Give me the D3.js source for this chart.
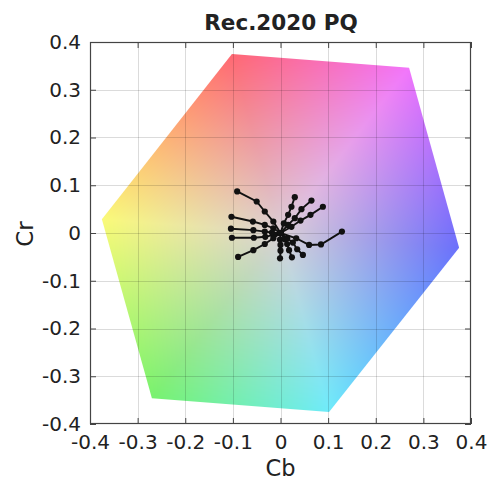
<!DOCTYPE html>
<html>
<head>
<meta charset="utf-8">
<script src="https://cdn.jsdelivr.net/npm/d3@7"></script>
<style>
  html, body { margin: 0; padding: 0; background: #fff; }
  text { font-family: "DejaVu Sans", sans-serif; fill: #222; }
</style>
</head>
<body>
<script>
// ---------- data ----------
const chartTitle = "Rec.2020 PQ";
const xLabel = "Cb";
const yLabel = "Cr";
const cbTicks = [-0.4, -0.3, -0.2, -0.1, 0, 0.1, 0.2, 0.3, 0.4];
const crTicks = [-0.4, -0.3, -0.2, -0.1, 0, 0.1, 0.2, 0.3, 0.4];
const cbTickLabels = ["-0.4", "-0.3", "-0.2", "-0.1", "0", "0.1", "0.2", "0.3", "0.4"];
const crTickLabels = ["-0.4", "-0.3", "-0.2", "-0.1", "0", "0.1", "0.2", "0.3", "0.4"];

// gamut hexagon vertices: R, M, B, C, G, Y
const gamutCb = [-0.102, 0.270, 0.375, 0.102, -0.270, -0.375];
const gamutCr = [0.375, 0.346, -0.031, -0.375, -0.346, 0.029];
const gamutColors = ["#ff6873", "#f275fb", "#6b70fb", "#6eebfa", "#78f26e", "#fafa78"];
const centerColor = "#dad0d6";

// rays of measured points (Cb, Cr)
const rayCb = [
  [0, -0.015, -0.033, -0.050, -0.091],
  [0, -0.015, -0.033, -0.058, -0.103],
  [0, -0.018, -0.033, -0.057, -0.104],
  [0, -0.015, -0.032, -0.056, -0.102],
  [0, -0.015, -0.033, -0.057, -0.089],
  [0, -0.001, 0.000, 0.000, -0.001],
  [0, 0.009, 0.014, 0.018, 0.024],
  [0, 0.014, 0.026, 0.035, 0.047],
  [0, 0.033, 0.060, 0.085, 0.129],
  [0, 0.007, 0.016, 0.023, 0.030],
  [0, 0.016, 0.030, 0.044, 0.065],
  [0, 0.023, 0.042, 0.063, 0.089]
];
const rayCr = [
  [0, 0.024, 0.045, 0.066, 0.087],
  [0, 0.010, 0.017, 0.024, 0.034],
  [0, 0.001, 0.003, 0.006, 0.009],
  [0, -0.004, -0.008, -0.010, -0.010],
  [0, -0.011, -0.023, -0.036, -0.050],
  [0, -0.014, -0.025, -0.037, -0.053],
  [0, -0.013, -0.023, -0.036, -0.051],
  [0, -0.011, -0.020, -0.034, -0.046],
  [0, -0.011, -0.025, -0.024, 0.003],
  [0, 0.020, 0.038, 0.055, 0.075],
  [0, 0.017, 0.031, 0.050, 0.068],
  [0, 0.013, 0.026, 0.038, 0.055]
];

// ---------- layout ----------
const W = 489, H = 480;
const plot = { left: 90, right: 471, top: 42, bottom: 424 };
const x = d3.scaleLinear().domain([-0.4, 0.4]).range([plot.left, plot.right]);
const y = d3.scaleLinear().domain([-0.4, 0.4]).range([plot.bottom, plot.top]);

const svg = d3.select("body").append("svg")
  .attr("width", W).attr("height", H)
  .attr("viewBox", `0 0 ${W} ${H}`);

// ---------- gamut fill (rendered via canvas, clipped to polygon) ----------
const verts = gamutCb.map((cb, i) => [cb, gamutCr[i]]);
const cols = gamutColors.map(c => d3.rgb(c));
const cc = d3.rgb(centerColor);

const pw = plot.right - plot.left, ph = plot.bottom - plot.top;
const canvas = document.createElement("canvas");
canvas.width = pw; canvas.height = ph;
const ctx = canvas.getContext("2d");
const img = ctx.createImageData(pw, ph);
for (let j = 0; j < ph; j++) {
  for (let i = 0; i < pw; i++) {
    const cb = x.invert(plot.left + i + 0.5);
    const cr = y.invert(plot.top + j + 0.5);
    let rgb = [cc.r, cc.g, cc.b];
    for (let k = 0; k < 6; k++) {
      const a = verts[k], b = verts[(k + 1) % 6];
      const det = a[0] * b[1] - a[1] * b[0];
      const u = (cb * b[1] - cr * b[0]) / det;
      const v = (a[0] * cr - a[1] * cb) / det;
      if (u >= -1e-9 && v >= -1e-9) {
        const w = 1 - u - v;
        const ca = cols[k], cb2 = cols[(k + 1) % 6];
        rgb = [
          w * cc.r + u * ca.r + v * cb2.r,
          w * cc.g + u * ca.g + v * cb2.g,
          w * cc.b + u * ca.b + v * cb2.b
        ];
        break;
      }
    }
    const idx = (j * pw + i) * 4;
    img.data[idx] = Math.max(0, Math.min(255, rgb[0]));
    img.data[idx + 1] = Math.max(0, Math.min(255, rgb[1]));
    img.data[idx + 2] = Math.max(0, Math.min(255, rgb[2]));
    img.data[idx + 3] = 255;
  }
}
ctx.putImageData(img, 0, 0);

const defs = svg.append("defs");
const polyLine = d3.line().x(d => x(d[0])).y(d => y(d[1])).curve(d3.curveLinearClosed);
defs.append("clipPath").attr("id", "gamutClip")
  .append("path").attr("d", polyLine(verts));

svg.append("image")
  .attr("x", plot.left).attr("y", plot.top)
  .attr("width", pw).attr("height", ph)
  .attr("preserveAspectRatio", "none")
  .attr("href", canvas.toDataURL())
  .attr("clip-path", "url(#gamutClip)");

// ---------- grid ----------
const grid = svg.append("g").attr("stroke", "#000").attr("stroke-opacity", 0.14).attr("stroke-width", 1);
grid.selectAll("line.gx").data(cbTicks.slice(1, -1)).join("line")
  .attr("class", "gx")
  .attr("x1", d => Math.round(x(d)) + 0.5).attr("x2", d => Math.round(x(d)) + 0.5)
  .attr("y1", plot.top).attr("y2", plot.bottom);
grid.selectAll("line.gy").data(crTicks.slice(1, -1)).join("line")
  .attr("class", "gy")
  .attr("y1", d => Math.round(y(d)) + 0.5).attr("y2", d => Math.round(y(d)) + 0.5)
  .attr("x1", plot.left).attr("x2", plot.right);

// ---------- rays ----------
const rayLine = d3.line().x(d => x(d[0])).y(d => y(d[1]));
const rays = rayCb.map((cbs, r) => cbs.map((cb, i) => [cb, rayCr[r][i]]));
const rg = svg.append("g");
rg.selectAll("path").data(rays).join("path")
  .attr("d", rayLine)
  .attr("fill", "none").attr("stroke", "#111").attr("stroke-width", 1.9);
rg.selectAll("circle").data(rays.flat()).join("circle")
  .attr("cx", d => x(d[0])).attr("cy", d => y(d[1]))
  .attr("r", 3.1).attr("fill", "#111");

// ---------- axes ----------
const fs = "20px";
const axB = svg.append("g").attr("transform", `translate(0,${plot.bottom})`)
  .call(d3.axisBottom(x).tickValues(cbTicks).tickFormat((d, i) => cbTickLabels[i])
    .tickSizeInner(-6).tickSizeOuter(0).tickPadding(11));
const axT = svg.append("g").attr("transform", `translate(0,${plot.top})`)
  .call(d3.axisTop(x).tickValues(cbTicks).tickFormat("")
    .tickSizeInner(-6).tickSizeOuter(0));
const axL = svg.append("g").attr("transform", `translate(${plot.left},0)`)
  .call(d3.axisLeft(y).tickValues(crTicks).tickFormat((d, i) => crTickLabels[i])
    .tickSizeInner(-6).tickSizeOuter(0).tickPadding(9));
const axR = svg.append("g").attr("transform", `translate(${plot.right},0)`)
  .call(d3.axisRight(y).tickValues(crTicks).tickFormat("")
    .tickSizeInner(-6).tickSizeOuter(0));
[axB, axT, axL, axR].forEach(a => {
  a.select(".domain").remove();
  a.selectAll(".tick line").attr("stroke", "#444");
  a.selectAll(".tick text").style("font-size", fs).style("font-family", "DejaVu Sans, sans-serif").attr("fill", "#222");
});

svg.append("rect")
  .attr("x", plot.left + 0.5).attr("y", plot.top + 0.5)
  .attr("width", pw - 1).attr("height", ph - 1)
  .attr("fill", "none").attr("stroke", "#444").attr("stroke-width", 1.2);

// ---------- labels ----------
svg.append("text").attr("x", 281).attr("y", 30)
  .attr("text-anchor", "middle")
  .style("font-size", "21.5px").style("font-weight", "bold")
  .text(chartTitle);
svg.append("text").attr("x", 280.5).attr("y", 476)
  .attr("text-anchor", "middle").style("font-size", "22.5px")
  .text(xLabel);
svg.append("text").attr("transform", "translate(33,234) rotate(-90)")
  .attr("text-anchor", "middle").style("font-size", "23px")
  .text(yLabel);
</script>
</body>
</html>
